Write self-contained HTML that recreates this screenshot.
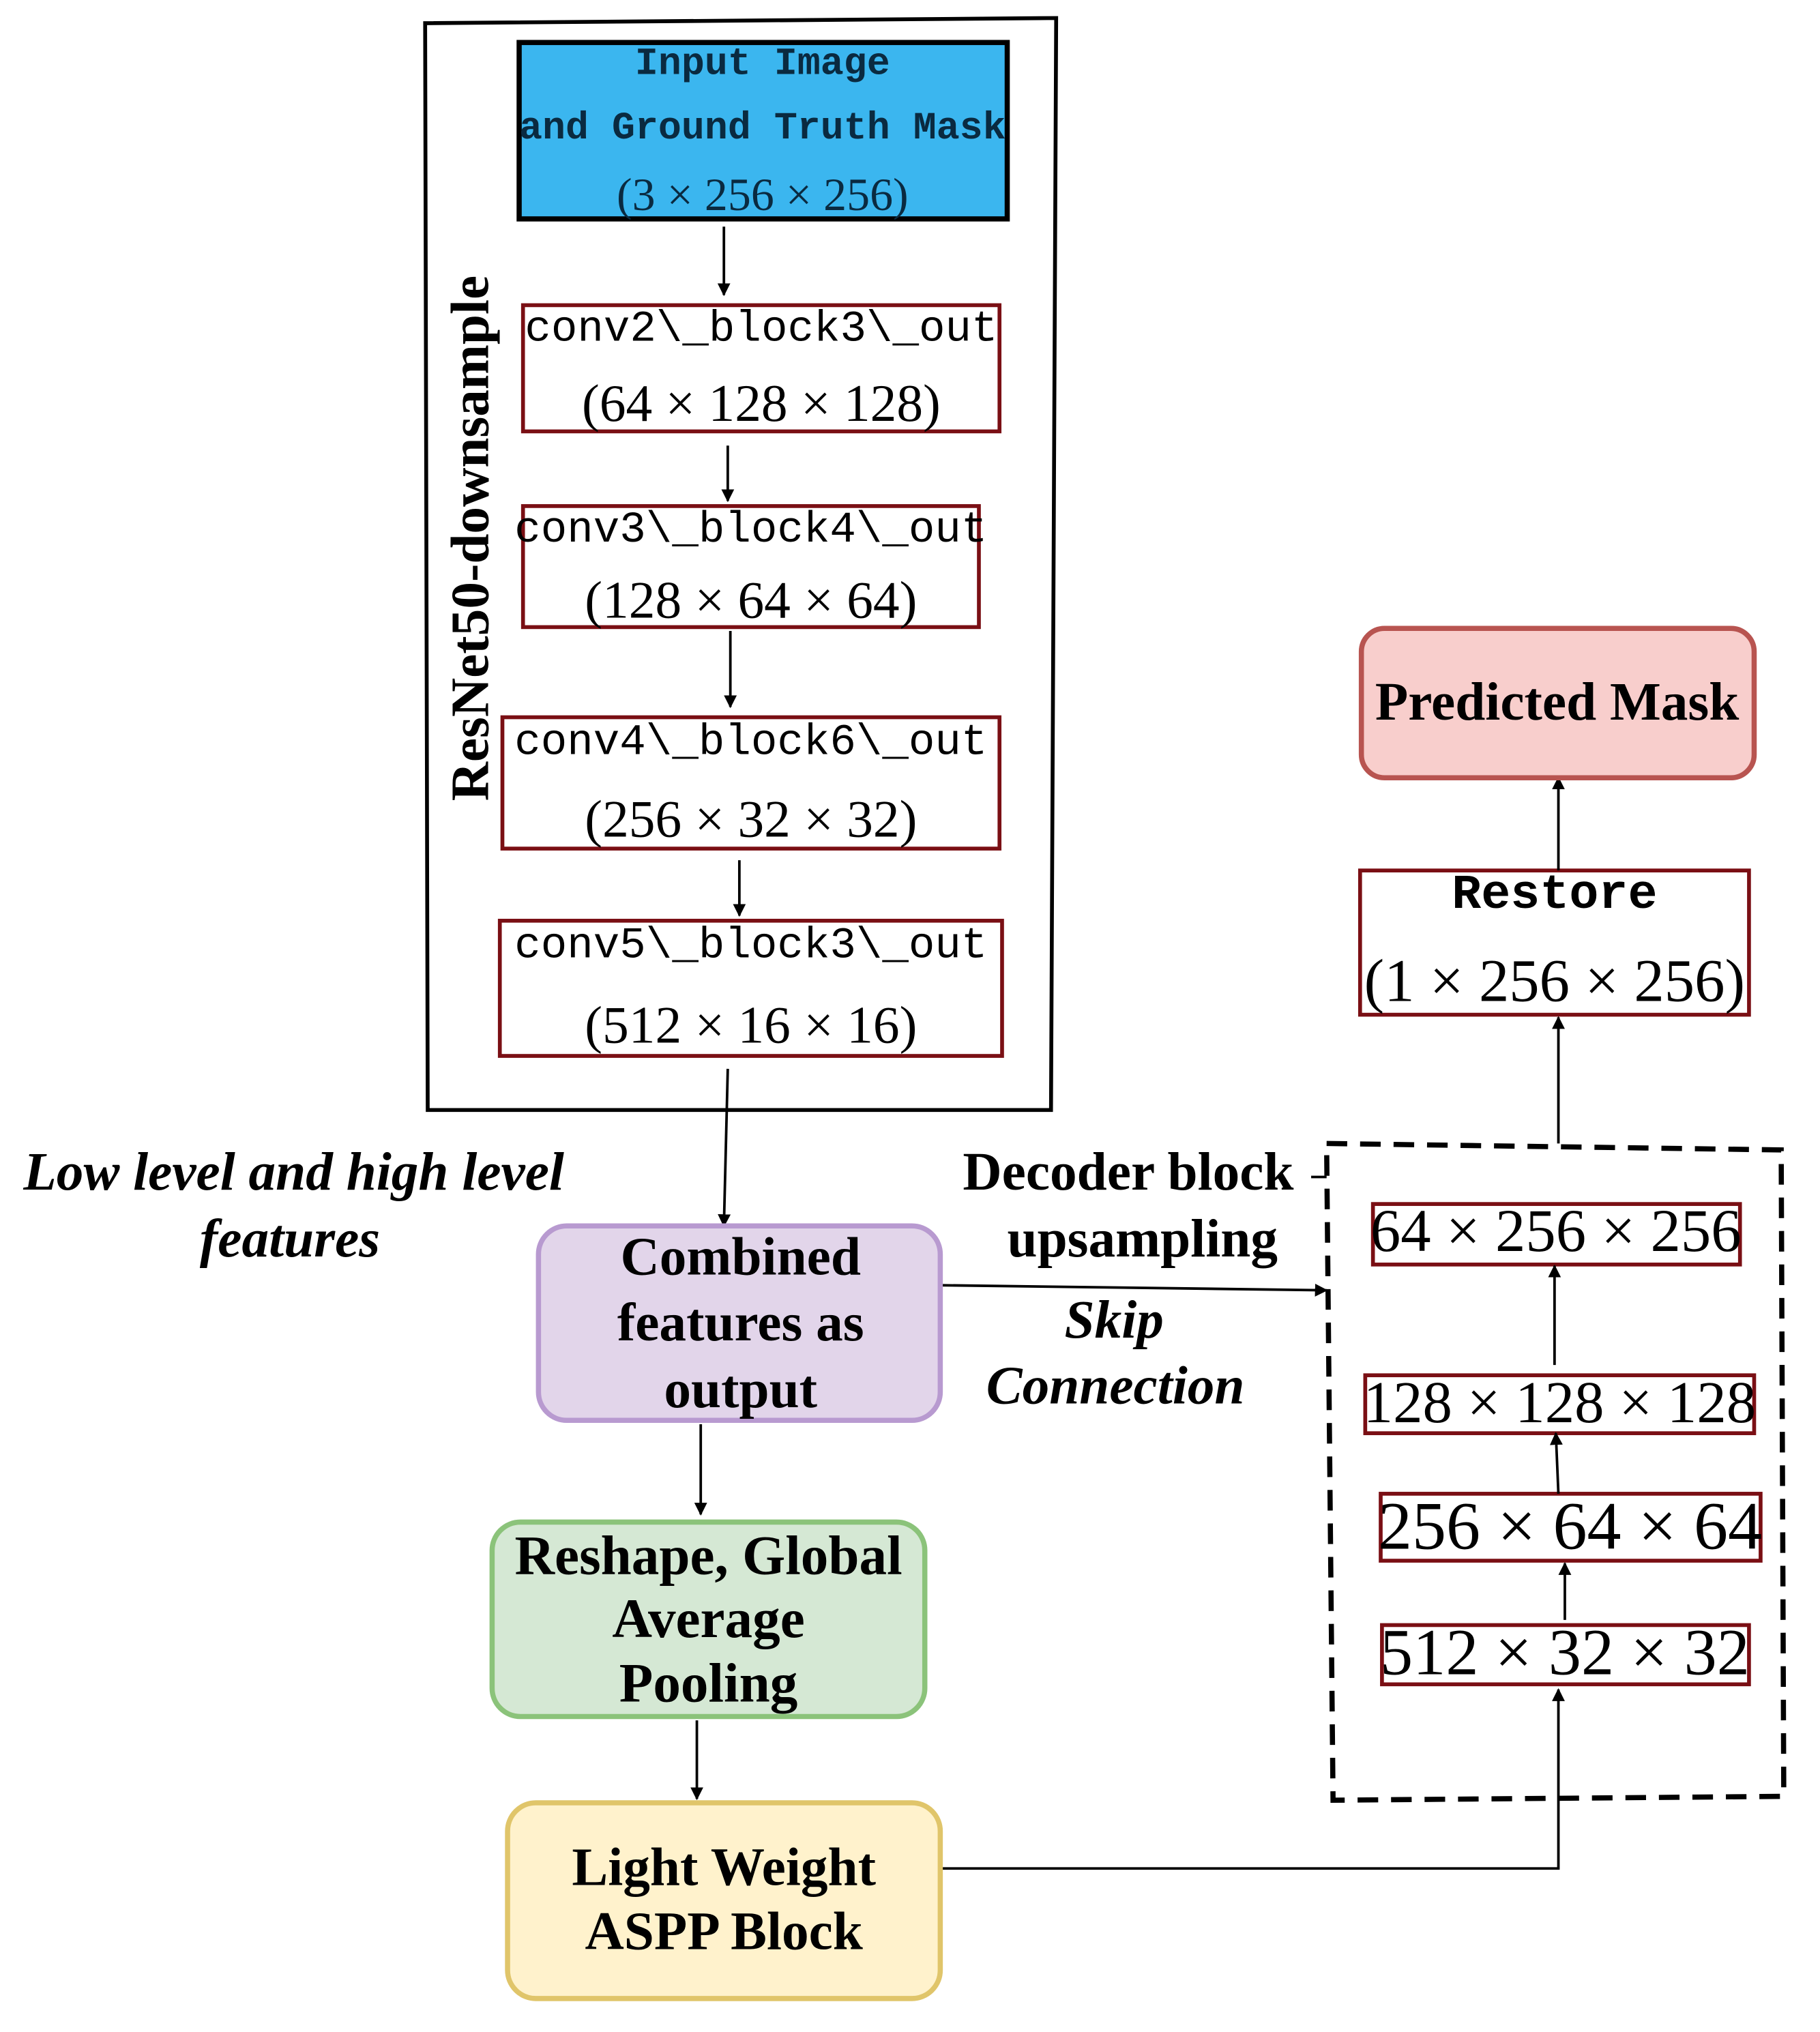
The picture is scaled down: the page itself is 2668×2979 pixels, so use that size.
<!DOCTYPE html>
<html><head><meta charset="utf-8"><style>html,body{margin:0;padding:0;background:#fff}svg{display:block}</style></head>
<body>
<svg width="2668" height="2979" viewBox="0 0 1413 1578" xmlns="http://www.w3.org/2000/svg">
<defs><marker id="a" markerWidth="10" markerHeight="10" refX="9" refY="5" orient="auto" markerUnits="userSpaceOnUse"><path d="M0,0 L10,5 L0,10 z" fill="#000"/></marker></defs>
<g font-family="Liberation Serif, serif" text-anchor="middle" dominant-baseline="central">
<polygon points="330,18 820,14 816,862 332,862" fill="none" stroke="#000" stroke-width="3"/>
<rect x="403" y="33" width="379" height="137" fill="#3bb6ef" stroke="#000" stroke-width="4"/>
<g font-family="Liberation Mono, monospace" font-weight="bold" font-size="30" fill="#0a2a40">
<text x="592" y="50">Input Image</text><text x="592" y="100">and Ground Truth Mask</text></g>
<text x="592" y="151" font-size="36" fill="#0a2a40">(3 × 256 × 256)</text>
<g fill="none" stroke="#7a0f14" stroke-width="3">
<rect x="406" y="237" width="370" height="98"/><rect x="406" y="393" width="354" height="94"/>
<rect x="390" y="557" width="386" height="102"/><rect x="388" y="715" width="390" height="105"/>
<rect x="1066" y="935" width="285" height="47"/><rect x="1060" y="1068" width="302" height="45"/>
<rect x="1072" y="1160" width="295" height="52"/><rect x="1073" y="1262" width="285" height="46"/>
<rect x="1056" y="676" width="302" height="112"/></g>
<g font-family="Liberation Mono, monospace" font-size="34">
<text x="591" y="256">conv2\_block3\_out</text><text x="583" y="412">conv3\_block4\_out</text>
<text x="583" y="577">conv4\_block6\_out</text><text x="583" y="735">conv5\_block3\_out</text>
<text x="1207" y="695" font-weight="bold" font-size="38">Restore</text></g>
<g font-size="41">
<text x="591" y="313">(64 × 128 × 128)</text><text x="583" y="466">(128 × 64 × 64)</text>
<text x="583" y="636">(256 × 32 × 32)</text><text x="583" y="796">(512 × 16 × 16)</text>
<text x="1207" y="762" font-size="47">(1 × 256 × 256)</text>
<text x="1208" y="956" font-size="47">64 × 256 × 256</text><text x="1211" y="1089" font-size="46">128 × 128 × 128</text>
<text x="1219" y="1185" font-size="53">256 × 64 × 64</text><text x="1215" y="1283" font-size="51">512 × 32 × 32</text></g>
<text transform="translate(365,418) rotate(-90)" font-size="42" font-weight="bold">ResNet50-downsample</text>
<g stroke="#000" stroke-width="2" fill="none" marker-end="url(#a)">
<line x1="562" y1="176" x2="562" y2="229"/><line x1="565" y1="346" x2="565" y2="389"/>
<line x1="567" y1="490" x2="567" y2="549"/><line x1="574" y1="668" x2="574" y2="711"/>
<line x1="565" y1="830" x2="562" y2="952"/><line x1="544" y1="1106" x2="544" y2="1176"/>
<line x1="541" y1="1336" x2="541" y2="1397"/><line x1="724" y1="998" x2="1030" y2="1002"/>
<polyline points="728,1451 1210,1451 1210,1312"/>
<line x1="1215" y1="1258" x2="1215" y2="1214"/><line x1="1210" y1="1160" x2="1208" y2="1113"/>
<line x1="1207" y1="1060" x2="1207" y2="983"/><line x1="1210" y1="888" x2="1210" y2="790"/>
<line x1="1210" y1="676" x2="1210" y2="604"/></g>
<polygon points="1030,888 1383,893 1385,1395 1035,1398" fill="none" stroke="#000" stroke-width="4" stroke-dasharray="16,10"/>
<g font-weight="bold" font-style="italic" font-size="42">
<text x="228" y="910">Low level and high level</text><text x="225" y="962">features</text>
<text x="865" y="1025">Skip</text><text x="866" y="1076">Connection</text></g>
<rect x="418" y="952" width="312" height="151" rx="22" fill="#e2d5ea" stroke="#b89ad0" stroke-width="4"/>
<rect x="382" y="1182" width="336" height="151" rx="22" fill="#d5e8d4" stroke="#8bc37a" stroke-width="4"/>
<rect x="394" y="1400" width="336" height="152" rx="22" fill="#fff2cc" stroke="#e0c56a" stroke-width="4"/>
<rect x="1057" y="488" width="305" height="116" rx="18" fill="#f8cecc" stroke="#b85450" stroke-width="4"/>
<g font-weight="bold" font-size="42">
<text x="575" y="976">Combined</text><text x="575" y="1027">features as</text><text x="575" y="1079">output</text>
<text x="550" y="1208" font-size="43">Reshape, Global</text><text x="550" y="1257" font-size="43">Average</text><text x="550" y="1307" font-size="43">Pooling</text>
<text x="562" y="1450">Light Weight</text><text x="562" y="1500">ASPP Block</text>
<text x="1209" y="545">Predicted Mask</text>
<text x="876" y="910">Decoder block</text><text x="887" y="962">upsampling</text></g>
<line x1="1018" y1="914" x2="1030" y2="914" stroke="#000" stroke-width="2"/>
</g>
</svg>
</body></html>
